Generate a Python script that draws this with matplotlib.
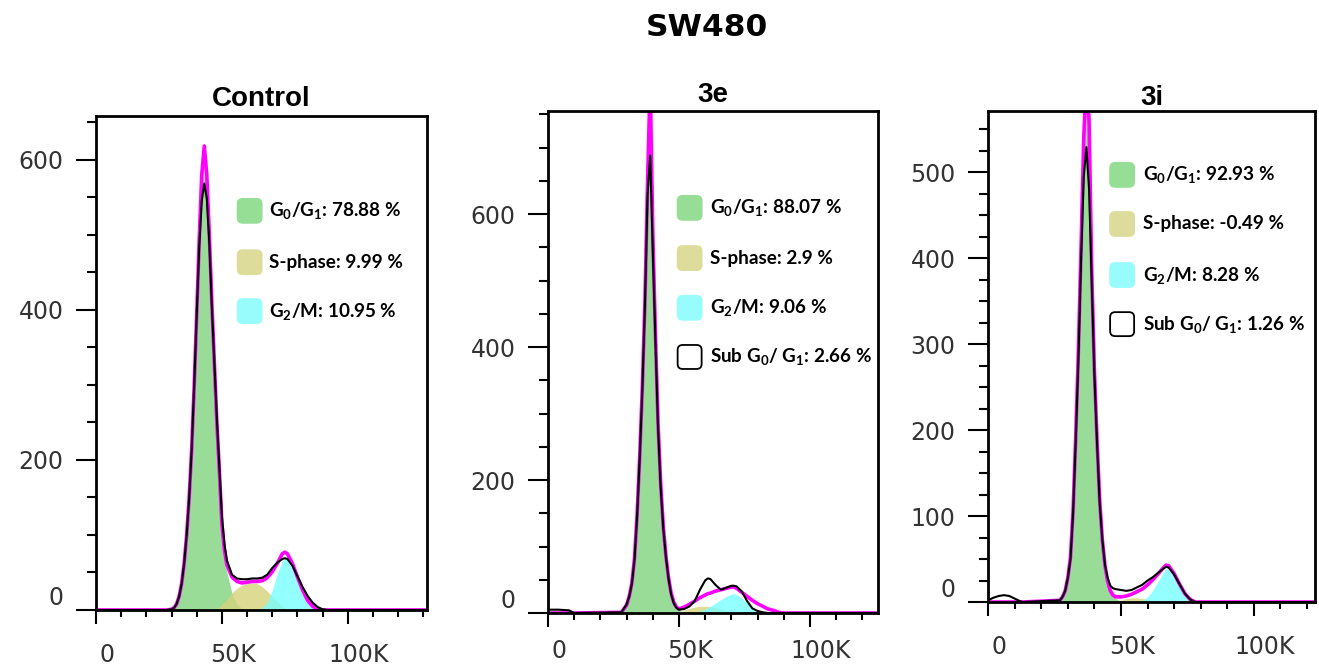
import matplotlib
matplotlib.use('Agg')
import matplotlib.pyplot as plt
from matplotlib.patches import FancyBboxPatch
from matplotlib.transforms import ScaledTranslation

plt.rcParams['mathtext.default'] = 'regular'

# ---- data (x in K units of DNA content, y = counts) ----
ctrl_x = [0, 28, 30, 31, 32, 33, 34, 35, 36, 37, 38, 39, 40, 41, 42, 43, 44, 45, 46, 47, 48, 49, 50, 51, 52,
          54, 56, 58, 60, 62, 64, 66, 68, 70, 72, 74, 75, 76, 78, 80, 82, 84, 86, 88, 90, 92, 131]
ctrl_black = [0, 0, 1, 3, 8, 18, 35, 62, 100, 150, 215, 300, 395, 485, 545, 568, 548, 490, 405, 330, 255, 190, 125, 88, 66,
              47, 42, 41, 41, 42, 42, 43, 47, 56, 63, 68, 69, 68, 59, 45, 31, 19, 10, 4, 1, 0, 0]
ctrl_fit = [0, 0, 1, 3, 8, 18, 35, 62, 100, 150, 215, 300, 395, 495, 580, 618, 580, 500, 410, 330, 250, 185, 115, 80, 60,
            44, 38, 36, 37, 38, 38, 39, 43, 51, 62, 75, 77, 75, 62, 44, 27, 13, 5, 1, 0, 0, 0]
ctrl_g1 = [0, 0, 1, 3, 8, 18, 35, 62, 100, 150, 215, 300, 395, 495, 578, 612, 576, 498, 408, 328, 248, 180, 108, 74, 50,
           22, 8, 2, 0, 0, 0, 0, 0, 0, 0, 0, 0, 0, 0, 0, 0, 0, 0, 0, 0, 0, 0]
ctrl_s = [0, 0, 0, 0, 0, 0, 0, 0, 0, 0, 0, 0, 0, 0, 0, 0, 0, 0, 0, 0, 2, 4, 8, 11, 15,
          23, 29, 33, 36, 36, 35, 31, 25, 18, 11, 5, 3, 1, 0, 0, 0, 0, 0, 0, 0, 0, 0]
ctrl_g2 = [0, 0, 0, 0, 0, 0, 0, 0, 0, 0, 0, 0, 0, 0, 0, 0, 0, 0, 0, 0, 0, 0, 0, 0, 0,
           0, 0, 0, 0, 0, 0, 3, 10, 26, 48, 65, 69, 67, 54, 38, 22, 10, 3, 0, 0, 0, 0]
ctrl_labels = ['G$_0$/G$_1$: 78.88 %', 'S-phase: 9.99 %', 'G$_2$/M: 10.95 %']

e_x = [0, 4, 8, 10, 28, 30, 31, 32, 33, 34, 35, 36, 37, 38, 39, 40, 41, 42, 43, 44, 45, 46, 47, 48, 49, 50,
       52, 54, 56, 58, 60, 61, 62, 64, 66, 68, 70, 71, 72, 74, 76, 78, 80, 82, 84, 86, 88, 90, 126]
e_black = [5, 5, 4, 0, 1, 13, 25, 44, 80, 146, 234, 336, 465, 630, 688, 545, 410, 280, 190, 128, 85, 52, 28, 15, 8, 5,
           6, 10, 18, 35, 49, 52, 51, 42, 35, 38, 41, 41, 40, 32, 18, 7, 3, 1, 0, 0, 0, 0, 0]
e_fit = [0, 0, 0, 0, 1, 12, 25, 45, 82, 148, 236, 340, 470, 650, 800, 570, 420, 285, 195, 130, 86, 53, 30, 16, 9, 6,
         9, 13, 18, 23, 27, 29, 30, 33, 35, 37, 39, 39, 37, 31, 25, 19, 14, 10, 6, 4, 1, 0, 0]
e_g1 = [0, 0, 0, 0, 1, 12, 25, 45, 82, 148, 236, 340, 470, 650, 800, 570, 420, 285, 195, 130, 86, 53, 30, 16, 8, 4,
        1, 0, 0, 0, 0, 0, 0, 0, 0, 0, 0, 0, 0, 0, 0, 0, 0, 0, 0, 0, 0, 0, 0]
e_s = [0, 0, 0, 0, 0, 0, 0, 0, 0, 0, 0, 0, 0, 0, 0, 0, 0, 0, 0, 0, 0, 0, 0, 0, 0, 1,
       4, 7, 9, 10, 10, 10, 9, 8, 6, 4, 2, 1, 1, 0, 0, 0, 0, 0, 0, 0, 0, 0, 0]
e_g2 = [0, 0, 0, 0, 0, 0, 0, 0, 0, 0, 0, 0, 0, 0, 0, 0, 0, 0, 0, 0, 0, 0, 0, 0, 0, 0,
        0, 0, 0, 3, 6, 8, 10, 15, 20, 25, 28, 29, 28, 22, 15, 8, 3, 0, 0, 0, 0, 0, 0]
e_labels = ['G$_0$/G$_1$: 88.07 %', 'S-phase: 2.9 %', 'G$_2$/M: 9.06 %', 'Sub G$_0$/ G$_1$: 2.66 %']

i_x = [0, 2, 4, 6, 8, 10, 12, 13, 27, 28, 29, 30, 31, 32, 33, 34, 35, 36, 37, 38, 39, 40, 41, 42, 43, 44, 45,
       46, 47, 48, 50, 52, 54, 56, 58, 60, 62, 64, 66, 67, 68, 70, 72, 74, 76, 78, 123]
i_black = [2, 5, 7, 8, 7, 4, 1, 0, 2, 6, 13, 28, 50, 105, 190, 285, 400, 495, 529, 480, 373, 265, 185, 115, 72, 43, 28,
           19, 16, 15, 14, 13, 14, 17, 20, 25, 29, 34, 39, 41, 40, 32, 21, 10, 3, 0, 0]
i_fit = [0, 0, 0, 0, 0, 0, 0, 0, 2, 6, 13, 28, 52, 108, 195, 295, 415, 540, 610, 560, 385, 270, 188, 118, 72, 42, 24,
         13, 8, 6, 6, 7, 9, 12, 15, 20, 26, 33, 40, 43, 42, 33, 21, 10, 3, 0, 0]
i_g1 = [0, 0, 0, 0, 0, 0, 0, 0, 2, 6, 13, 28, 52, 108, 195, 295, 415, 540, 610, 560, 385, 270, 188, 118, 72, 42, 24,
        13, 7, 4, 1, 0, 0, 0, 0, 0, 0, 0, 0, 0, 0, 0, 0, 0, 0, 0, 0]
i_s = [0, 0, 0, 0, 0, 0, 0, 0, 0, 0, 0, 0, 0, 0, 0, 0, 0, 0, 0, 0, 0, 0, 0, 0, 0, 0, 0,
       0, 0, 0, 2, 4, 5, 5, 4, 3, 1, 0, 0, 0, 0, 0, 0, 0, 0, 0, 0]
i_g2 = [0, 0, 0, 0, 0, 0, 0, 0, 0, 0, 0, 0, 0, 0, 0, 0, 0, 0, 0, 0, 0, 0, 0, 0, 0, 0, 0,
        0, 0, 0, 0, 0, 0, 0, 2, 6, 14, 24, 35, 39, 38, 30, 19, 9, 2, 0, 0]
i_labels = ['G$_0$/G$_1$: 92.93 %', 'S-phase: -0.49 %', 'G$_2$/M: 8.28 %', 'Sub G$_0$/ G$_1$: 1.26 %']

phase_colors = ['#96de96', '#dedc9a', '#98fcfc', 'white']
fill_colors = ['#7fd47f', '#d6d47a', '#78ffff']

fig = plt.figure(figsize=(13.19, 6.65), dpi=100)


def draw_panel(rect, x, black, fit, g1, s, g2, xmax, ymax, ymaj, ymin_step,
               title, tpad, xpad, labels, bx, tx, ys):
    ax = fig.add_axes(rect)
    ax.fill_between(x, g1, color=fill_colors[0], alpha=0.8, lw=0)
    ax.fill_between(x, s, color=fill_colors[1], alpha=0.8, lw=0)
    ax.fill_between(x, g2, color=fill_colors[2], alpha=0.8, lw=0)
    ax.plot(x, fit, color='#ff00ff', lw=2.6, solid_capstyle='round')
    ax.plot(x, black, color='black', lw=1.5)
    ax.set_xlim(0, xmax)
    ax.set_ylim(0, ymax)
    ax.set_xticks([0, 50, 100])
    ax.set_xticks(range(0, int(xmax) + 1, 10), minor=True)
    ax.set_xticklabels(['0', '50K', '100K'])
    yt = list(range(0, int(ymax) + 1, ymaj))
    ax.set_yticks(yt)
    ax.set_yticks(range(0, int(ymax) + 1, ymin_step), minor=True)
    for sp in ax.spines.values():
        sp.set_linewidth(2)
    ax.tick_params(axis='y', which='major', length=14.5, width=1.5, pad=9,
                   labelsize=17, labelcolor='#333333')
    ax.tick_params(axis='y', which='minor', length=6.5, width=1.5)
    ax.tick_params(axis='x', which='major', length=10, width=1.5, pad=xpad,
                   labelsize=17, labelcolor='#333333')
    ax.tick_params(axis='x', which='minor', length=5, width=1.5)
    off = ScaledTranslation(8 / 72, 0, fig.dpi_scale_trans)
    for lbl in ax.get_xticklabels():
        lbl.set_transform(lbl.get_transform() + off)
    ax.get_yticklabels()[0].set_va('bottom')
    ax.set_title(title, fontsize=20, fontweight='bold', family='Liberation Sans', pad=tpad)

    for k, lab in enumerate(labels):
        tr = fig.dpi_scale_trans + ScaledTranslation(bx, ys[k], ax.transAxes)
        ec = 'black' if k == 3 else phase_colors[k]
        box = FancyBboxPatch((-0.12, -0.12), 0.24, 0.24,
                             boxstyle='round,pad=0,rounding_size=0.05',
                             fc=phase_colors[k], ec=ec, lw=1.3, transform=tr, zorder=5)
        ax.add_patch(box)
        ax.text(tx, ys[k], lab, transform=ax.transAxes, ha='left', va='center',
                fontsize=13.6, fontweight='bold', family='Lato', zorder=6)
    return ax


draw_panel([0.0728, 0.0827, 0.2510, 0.7429], ctrl_x, ctrl_black, ctrl_fit, ctrl_g1, ctrl_s, ctrl_g2,
           131.5, 658, 200, 50, 'Control', 7, 14, ctrl_labels, 0.464, 0.523, [0.808, 0.704, 0.605])
draw_panel([0.4155, 0.0782, 0.2502, 0.7549], e_x, e_black, e_fit, e_g1, e_s, e_g2,
           126, 755, 200, 50, '3e', 6.5, 9, e_labels, 0.429, 0.491, [0.807, 0.707, 0.608, 0.510])
draw_panel([0.7491, 0.0947, 0.2479, 0.7383], i_x, i_black, i_fit, i_g1, i_s, i_g2,
           123, 571, 100, 25, '3i', 3.6, 14, i_labels, 0.410, 0.474, [0.870, 0.770, 0.666, 0.566])

fig.text(0.536, 0.958, 'SW480', ha='center', va='center', fontsize=22.5, fontweight='bold')

fig.savefig('out.png', dpi=100)
